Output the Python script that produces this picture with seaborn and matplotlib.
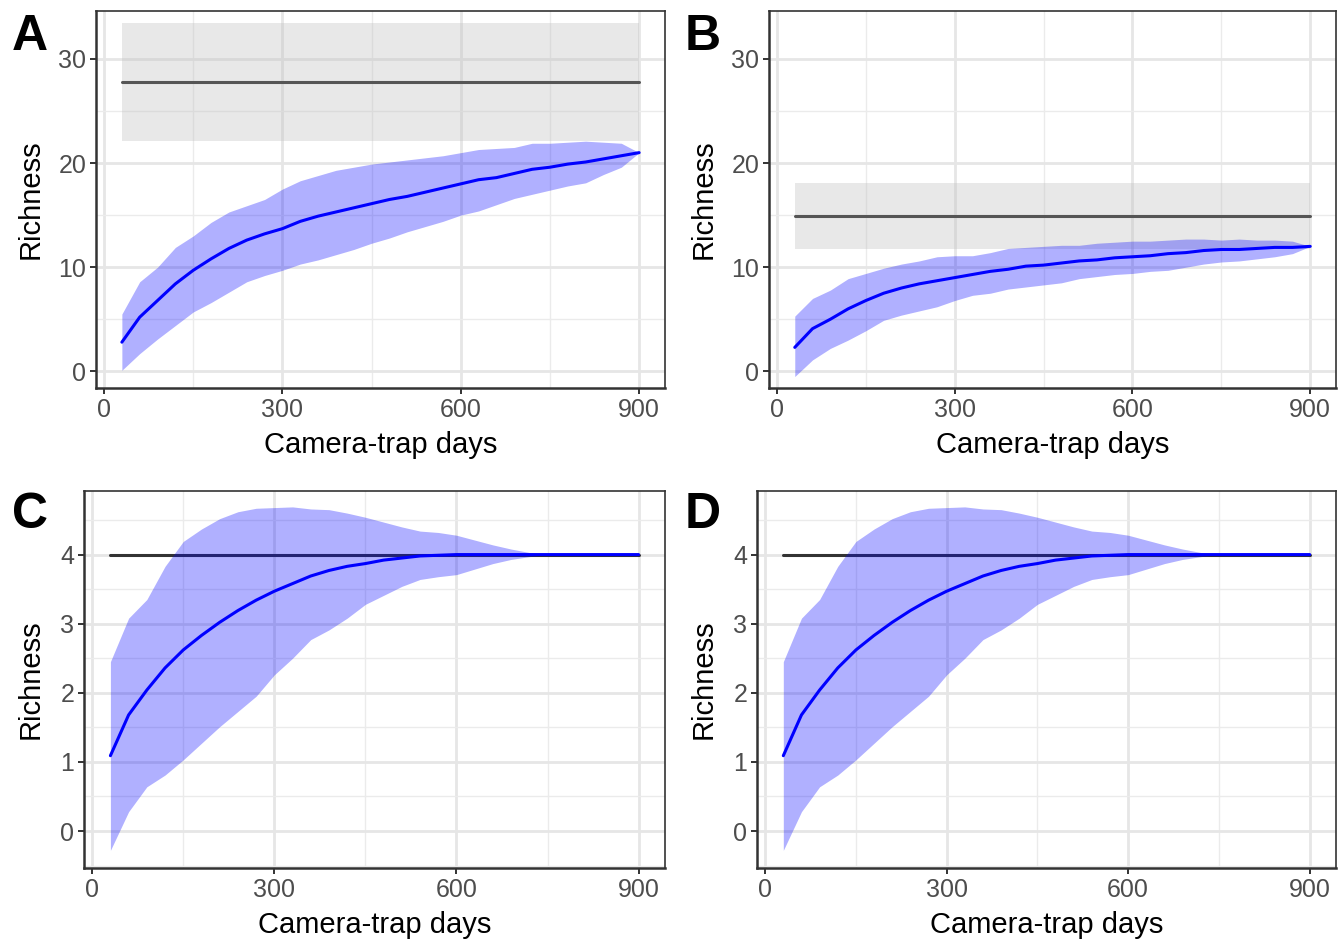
import numpy as np
import pandas as pd
import matplotlib
matplotlib.use("Agg")
import matplotlib.pyplot as plt
import seaborn as sns

# camera-trap days sampled along each accumulation curve
days = [30, 60, 90, 120, 150, 180, 210, 240, 270, 300,
        330, 360, 390, 420, 450, 480, 510, 540, 570, 600,
        630, 660, 690, 720, 750, 780, 810, 840, 870, 900]

# panel A
a_mean = [2.8, 5.2, 6.8, 8.4, 9.7, 10.8, 11.8, 12.6, 13.2, 13.7,
          14.4, 14.9, 15.3, 15.7, 16.1, 16.5, 16.8, 17.2, 17.6, 18.0,
          18.4, 18.6, 19.0, 19.4, 19.6, 19.9, 20.1, 20.4, 20.7, 21.0]
a_upper = [5.5, 8.6, 10.0, 11.9, 13.0, 14.3, 15.3, 15.9, 16.5, 17.5,
           18.3, 18.8, 19.3, 19.6, 19.9, 20.1, 20.3, 20.5, 20.7, 21.0,
           21.3, 21.4, 21.5, 21.9, 21.9, 22.0, 22.1, 22.0, 21.9, 21.0]
a_lower = [0.1, 1.7, 3.1, 4.4, 5.7, 6.6, 7.6, 8.6, 9.2, 9.7,
           10.3, 10.7, 11.2, 11.7, 12.3, 12.8, 13.4, 13.9, 14.4, 15.0,
           15.4, 16.0, 16.6, 17.0, 17.4, 17.8, 18.1, 18.9, 19.6, 21.0]
a_est = [27.8, 22.1, 33.4]  # estimate, lower, upper

# panel B
b_mean = [2.3, 4.1, 5.0, 6.0, 6.8, 7.5, 8.0, 8.4, 8.7, 9.0,
          9.3, 9.6, 9.8, 10.1, 10.2, 10.4, 10.6, 10.7, 10.9, 11.0,
          11.1, 11.3, 11.4, 11.6, 11.7, 11.7, 11.8, 11.9, 11.9, 12.0]
b_upper = [5.3, 7.0, 7.8, 8.9, 9.4, 9.9, 10.3, 10.6, 11.0, 11.1,
           11.1, 11.4, 11.8, 11.9, 12.0, 12.1, 12.1, 12.3, 12.4, 12.5,
           12.5, 12.6, 12.7, 12.7, 12.6, 12.7, 12.6, 12.6, 12.5, 12.0]
b_lower = [-0.5, 1.1, 2.2, 3.0, 3.9, 4.9, 5.4, 5.8, 6.2, 6.8,
           7.3, 7.5, 7.9, 8.1, 8.3, 8.5, 8.9, 9.1, 9.3, 9.4,
           9.6, 9.7, 10.0, 10.3, 10.5, 10.6, 10.8, 11.0, 11.3, 12.0]
b_est = [14.9, 11.7, 18.1]

# panels C and D (identical curves)
c_mean = [1.09, 1.68, 2.04, 2.36, 2.62, 2.83, 3.02, 3.19, 3.34, 3.47,
          3.58, 3.69, 3.77, 3.83, 3.87, 3.92, 3.95, 3.98, 3.99, 4.0,
          4.0, 4.0, 4.0, 4.0, 4.0, 4.0, 4.0, 4.0, 4.0, 4.0]
c_upper = [2.45, 3.08, 3.35, 3.83, 4.19, 4.37, 4.52, 4.62, 4.67, 4.68,
           4.69, 4.66, 4.65, 4.60, 4.54, 4.47, 4.40, 4.34, 4.32, 4.28,
           4.21, 4.14, 4.08, 4.03, 4.0, 4.0, 4.0, 4.0, 4.0, 4.0]
c_lower = [-0.28, 0.28, 0.64, 0.81, 1.03, 1.27, 1.51, 1.73, 1.95, 2.26,
           2.50, 2.77, 2.91, 3.08, 3.28, 3.41, 3.54, 3.64, 3.68, 3.71,
           3.79, 3.87, 3.93, 3.97, 4.0, 4.0, 4.0, 4.0, 4.0, 4.0]
c_est = [4.0]

top_majors, top_minors = [0, 10, 20, 30], [5, 15, 25]
bot_majors, bot_minors = [0, 1, 2, 3, 4], [-0.5, 0.5, 1.5, 2.5, 3.5, 4.5]

panels = [
    ("A", a_mean, a_lower, a_upper, a_est, top_majors, top_minors),
    ("B", b_mean, b_lower, b_upper, b_est, top_majors, top_minors),
    ("C", c_mean, c_lower, c_upper, c_est, bot_majors, bot_minors),
    ("D", c_mean, c_lower, c_upper, c_est, bot_majors, bot_minors),
]

# y ranges: top row shares panel A's scale
ylims = [(-1.6, 34.6), (-1.6, 34.6), (-0.535, 4.92), (-0.535, 4.92)]

# axes boxes in figure pixels: left, right, top, bottom
W, H = 1341, 941
boxes = [(96, 665, 11, 388), (769, 1336, 11, 388),
         (84, 665, 491, 868), (757, 1336, 491, 868)]
label_x = [45, 718, 45, 718]
letter_pos = [(12, 14), (685, 14), (12, 492), (685, 492)]

sns.set_theme(style="white")
plt.rcParams['font.family'] = ['Liberation Sans', 'DejaVu Sans']

fig = plt.figure(figsize=(W / 100, H / 100), dpi=100)

for i, (letter, mean, lower, upper, est, majors, minors) in enumerate(panels):
    l, r, t, b = boxes[i]
    ax = fig.add_axes([l / W, 1 - b / H, (r - l) / W, (b - t) / H])
    df = pd.DataFrame({"days": days, "mean": mean, "lower": lower, "upper": upper})

    # gridlines
    for v in [150, 450, 750]:
        ax.axvline(v, color="#EBEBEB", lw=1.0, zorder=0)
    for v in [0, 300, 600, 900]:
        ax.axvline(v, color="#E6E6E6", lw=2.0, zorder=0)
    for v in minors:
        ax.axhline(v, color="#EBEBEB", lw=1.0, zorder=0)
    for v in majors:
        ax.axhline(v, color="#E6E6E6", lw=2.0, zorder=0)

    # asymptotic estimate
    if len(est) == 3:
        ax.fill_between([days[0], days[-1]], [est[1]] * 2, [est[2]] * 2,
                        color="#BEBEBE", alpha=0.35, lw=0, zorder=1)
        ax.plot([days[0], days[-1]], [est[0]] * 2, color="#555555", lw=2.2, zorder=2)
    else:
        ax.plot([days[0], days[-1]], [est[0]] * 2, color="#333333", lw=2.2, zorder=2)

    ax.fill_between(df["days"], df["lower"], df["upper"], color="blue",
                    alpha=0.31, lw=0, zorder=3)
    sns.lineplot(data=df, x="days", y="mean", color="blue", lw=2.2, ax=ax, zorder=4)

    ax.set_xticks([0, 300, 600, 900])
    ax.set_yticks(majors)
    ax.set_xlim(-13.5, 943.5)
    ax.set_ylim(*ylims[i])

    ax.set_xlabel("Camera-trap days", fontsize=21, color="black")
    ax.set_ylabel("Richness", fontsize=21, color="black")
    ax.xaxis.set_label_coords(0.5, -0.115)
    ax.yaxis.set_label_coords((label_x[i] - l) / (r - l), 0.5)

    ax.tick_params(axis="both", which="major", length=4, width=1.4,
                   color="#333333", labelsize=18, labelcolor="#4D4D4D",
                   direction="out", pad=3, bottom=True, left=True)
    for side in ["top", "right"]:
        ax.spines[side].set_color("#333333")
        ax.spines[side].set_linewidth(1.2)
    for side in ["left", "bottom"]:
        ax.spines[side].set_color("#333333")
        ax.spines[side].set_linewidth(1.8)
    ax.grid(False)

    lx, ly = letter_pos[i]
    fig.text(lx / W, 1 - ly / H, letter, fontsize=36, fontweight="bold",
             ha="left", va="top", color="black")

fig.savefig("out.png", dpi=100)
